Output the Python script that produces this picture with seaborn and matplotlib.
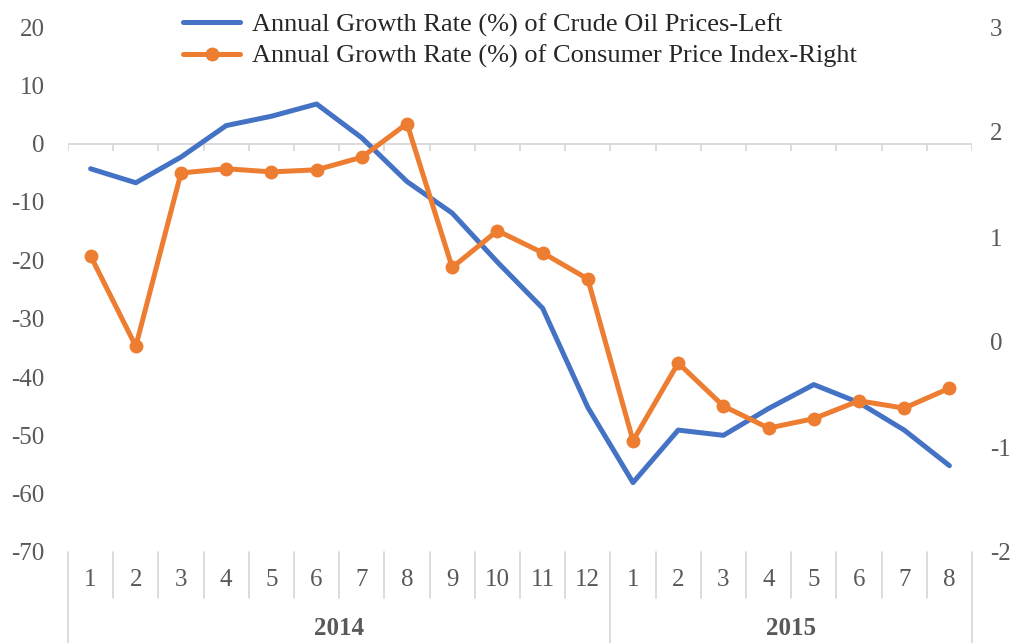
import numpy as np
import pandas as pd
import matplotlib
matplotlib.use("Agg")
import matplotlib.pyplot as plt
import matplotlib.transforms as mtransforms
import seaborn as sns

# months (2014: 1-12, 2015: 1-8)
months = ['1', '2', '3', '4', '5', '6', '7', '8', '9', '10', '11', '12',
          '1', '2', '3', '4', '5', '6', '7', '8']
years = ['2014', '2015']
year_counts = [12, 8]

oil_growth = [-4.3, -6.7, -2.3, 3.1, 4.7, 6.8, 1.0, -6.5, -11.9, -20.3,
              -28.2, -45.2, -58.1, -49.1, -50.0, -45.4, -41.3, -44.4, -49.1, -55.2]
cpi_growth = [0.82, -0.04, 1.61, 1.65, 1.62, 1.64, 1.76, 2.08, 0.71, 1.06,
              0.85, 0.60, -0.94, -0.20, -0.61, -0.82, -0.73, -0.56, -0.63, -0.44]

oil_label = 'Annual Growth Rate (%) of Crude Oil Prices-Left'
cpi_label = 'Annual Growth Rate (%) of Consumer Price Index-Right'

df = pd.DataFrame({'pos': np.arange(len(months)), 'oil': oil_growth, 'cpi': cpi_growth})

sns.set_style('white')
plt.rcParams['font.family'] = ['Liberation Serif', 'DejaVu Serif']
plt.rcParams['axes.unicode_minus'] = False

grey = '#595959'
line_grey = '#d9d9d9'
blue = '#4472C4'
orange = '#ED7D31'

fig = plt.figure(figsize=(10.15, 6.43), dpi=100)
ax = fig.add_axes([68 / 1015, 1 - 552 / 643, (972 - 68) / 1015, 525 / 643])
ax2 = ax.twinx()

sns.lineplot(data=df, x='pos', y='oil', ax=ax, color=blue, linewidth=3.6, label=oil_label)
sns.lineplot(data=df, x='pos', y='cpi', ax=ax2, color=orange, linewidth=3.6,
             marker='o', markersize=10, markeredgewidth=0, label=cpi_label)

h1, l1 = ax.get_legend_handles_labels()
h2, l2 = ax2.get_legend_handles_labels()
ax.get_legend().remove()
ax2.get_legend().remove()

n = len(months)
ax.set_xlim(-0.5, n - 0.5)
ax.set_ylim(-70, 20)
ax2.set_ylim(-2, 3)
ax.set_yticks(range(-70, 21, 10))
ax2.set_yticks(range(-2, 4))

for a in (ax, ax2):
    for s in a.spines.values():
        s.set_visible(False)
    a.set_xlabel('')
    a.set_ylabel('')
    a.set_xticks([])
    a.grid(False)
ax.tick_params(axis='y', length=0, pad=17, labelsize=18, labelcolor=grey)
ax2.tick_params(axis='y', length=0, pad=13, labelsize=18, labelcolor=grey)

# category axis crossing at zero with boundary tick marks
ax.axhline(0, color=line_grey, lw=1.3, zorder=0)
ax.vlines(np.arange(n + 1) - 0.5, -1.2, 0, color=line_grey, lw=1.3, zorder=0)

# multi-level labels under the plot
trans = mtransforms.blended_transform_factory(ax.transData, ax.transAxes)
for i, m in enumerate(months):
    ax.text(i, -0.053, m, transform=trans, ha='center', va='center', fontsize=18, color=grey)
bounds = np.concatenate([[0], np.cumsum(year_counts)]) - 0.5
for i in range(n + 1):
    x = i - 0.5
    bottom = -0.173 if np.isclose(bounds, x).any() else -0.088
    ax.plot([x, x], [0, bottom], transform=trans, color=line_grey, lw=1.3, clip_on=False)
for k, yr in enumerate(years):
    ax.text((bounds[k] + bounds[k + 1]) / 2, -0.145, yr, transform=trans, ha='center',
            va='center', fontsize=18, color=grey, fontweight='bold')

fig.legend(h1 + h2, l1 + l2, loc='upper left', bbox_to_anchor=(170 / 1015, 1.0),
           frameon=False, fontsize=19, handlelength=2.15, labelspacing=0.28,
           borderaxespad=0.1, handletextpad=0.45)

fig.savefig('out.png', dpi=100)
